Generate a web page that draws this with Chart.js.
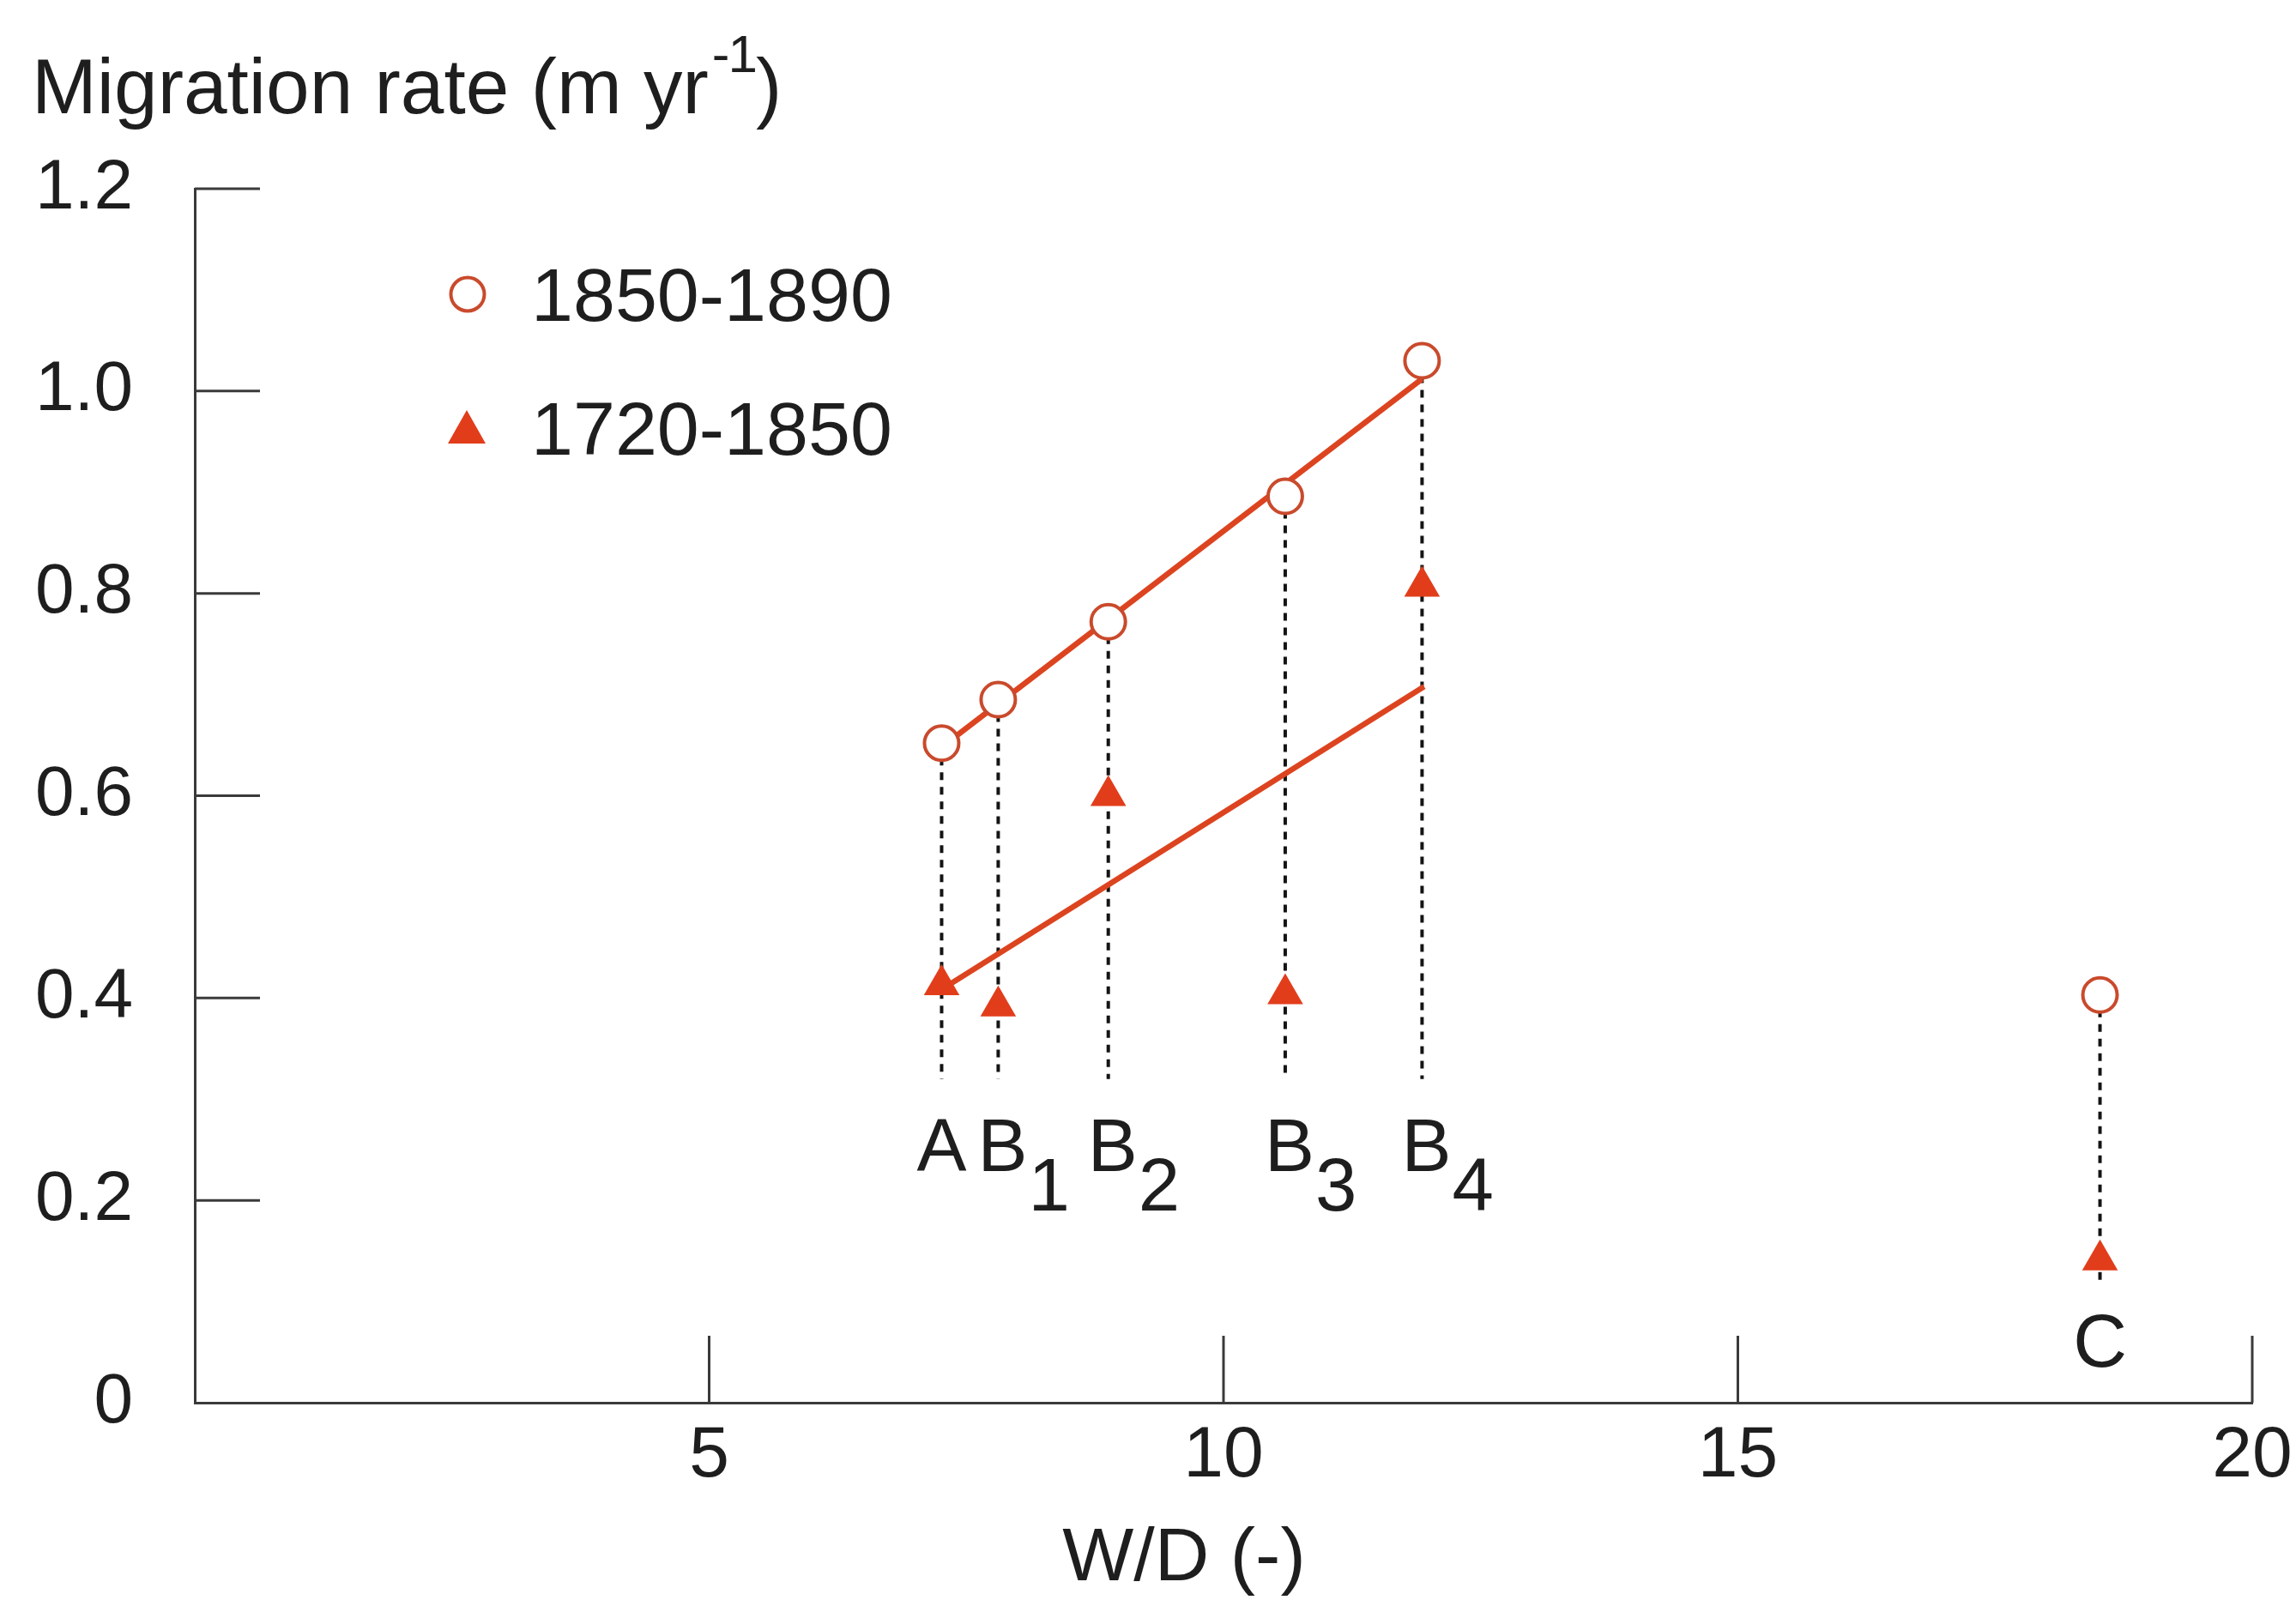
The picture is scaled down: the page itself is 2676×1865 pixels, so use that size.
<!DOCTYPE html>
<html>
<head>
<meta charset="utf-8">
<script src="https://cdn.jsdelivr.net/npm/chart.js@4.4.1/dist/chart.umd.min.js"></script>
<style>
  html, body { margin: 0; padding: 0; background: #fff; }
  #wrap { width: 2676px; height: 1865px; }
</style>
</head>
<body>
<div id="wrap"><canvas id="migrationChart" width="2676" height="1865"></canvas></div>
<script>
// sites along the reach
const siteLetters = ['A', 'B', 'B', 'B', 'B', 'C'];
const siteSubscripts = ['', '1', '2', '3', '4', ''];
const widthDepth = [7.26, 7.81, 8.88, 10.6, 11.93, 18.52];
const rate1850to1890 = [0.652, 0.695, 0.772, 0.896, 1.03, 0.403];
const rate1720to1850 = [0.413, 0.392, 0.600, 0.404, 0.807, 0.141];
// where the dotted drop lines stop
const dropBottom = [0.32, 0.32, 0.32, 0.32, 0.32, 0.115];
// trend lines, end points
const trend1850X = [7.26, 11.93];
const trend1850Y = [0.648, 1.012];
const trend1720X = [7.36, 11.95];
const trend1720Y = [0.415, 0.708];
const xTicks = [5, 10, 15, 20];
const yTicks = [0, 0.2, 0.4, 0.6, 0.8, 1.0, 1.2];
const seriesLabels = ['1850-1890', '1720-1850'];

const FONT = '"Liberation Sans", Arial, Helvetica, sans-serif';
const INK = '#1e1e1e';
const AXIS = '#3a3a3a';
const RED = '#dc4420';
const RING = '#c94a2c';
const TRI = '#e23d1b';

const pts = (xs, ys) => xs.map((x, i) => ({ x: x, y: ys[i] }));

const dropData = [];
widthDepth.forEach((x, i) => {
  dropData.push({ x: x, y: rate1850to1890[i] }, { x: x, y: dropBottom[i] }, { x: x, y: null });
});

// inside ticks, axis titles, legend and site labels
const extras = {
  id: 'extras',
  afterDraw(chart) {
    const ctx = chart.ctx;
    const xs = chart.scales.x, ys = chart.scales.y;
    const area = chart.chartArea;
    ctx.save();

    // ticks pointing into the plot
    ctx.strokeStyle = AXIS;
    ctx.lineWidth = 3;
    ctx.beginPath();
    yTicks.forEach(v => {
      if (v === 0) return;
      const py = ys.getPixelForValue(v);
      ctx.moveTo(area.left, py);
      ctx.lineTo(area.left + 76, py);
    });
    xTicks.forEach(v => {
      const px = xs.getPixelForValue(v);
      ctx.moveTo(px, area.bottom);
      ctx.lineTo(px, area.bottom - 78);
    });
    ctx.stroke();

    // y title with superscript
    ctx.fillStyle = INK;
    ctx.textBaseline = 'alphabetic';
    ctx.textAlign = 'left';
    ctx.font = '91px ' + FONT;
    const main = 'Migration rate (m yr';
    ctx.fillText(main, 37, 132);
    let tx = 37 + ctx.measureText(main).width + 4;
    ctx.font = '62px ' + FONT;
    ctx.fillText('-', tx, 84);
    tx += ctx.measureText('-').width - 2;
    ctx.fillText('1', tx, 84);
    tx += ctx.measureText('1').width - 2;
    ctx.font = '91px ' + FONT;
    ctx.fillText(')', tx, 132);

    // x title
    ctx.font = '88px ' + FONT;
    ctx.textAlign = 'center';
    ctx.fillText('W/D (-)', 1380, 1842);

    // legend
    ctx.textAlign = 'left';
    ctx.fillText(seriesLabels[0], 619, 374);
    ctx.fillText(seriesLabels[1], 619, 530);
    ctx.lineWidth = 4;
    ctx.strokeStyle = RING;
    ctx.fillStyle = '#fff';
    ctx.beginPath();
    ctx.arc(545, 343, 19.5, 0, Math.PI * 2);
    ctx.fill();
    ctx.stroke();
    ctx.fillStyle = TRI;
    ctx.beginPath();
    ctx.moveTo(544, 478);
    ctx.lineTo(566, 517);
    ctx.lineTo(522, 517);
    ctx.closePath();
    ctx.fill();

    // site labels under the drop lines
    ctx.fillStyle = INK;
    siteLetters.forEach((s, i) => {
      const px = xs.getPixelForValue(widthDepth[i]);
      const base = ys.getPixelForValue(siteSubscripts[i] || s === 'A' ? 0.229 : 0.036);
      ctx.font = '87px ' + FONT;
      const w = ctx.measureText(s).width;
      const left = px - w / 2 + (siteSubscripts[i] ? 5 : 0);
      ctx.textAlign = 'left';
      ctx.fillText(s, left, base);
      if (siteSubscripts[i]) {
        ctx.fillText(siteSubscripts[i], left + w + 1, base + 46);
      }
    });
    ctx.restore();
  }
};

new Chart(document.getElementById('migrationChart'), {
  type: 'scatter',
  data: {
    datasets: [
      {
        label: seriesLabels[0],
        data: pts(widthDepth, rate1850to1890),
        pointStyle: 'circle',
        pointRadius: 20,
        pointBorderWidth: 4,
        pointBorderColor: RING,
        pointBackgroundColor: '#fff',
        showLine: false,
        order: 0
      },
      {
        label: seriesLabels[1],
        data: pts(widthDepth, rate1720to1850),
        pointStyle: 'triangle',
        pointRadius: 24,
        pointBorderWidth: 0,
        pointBackgroundColor: TRI,
        pointBorderColor: TRI,
        showLine: false,
        order: 1
      },
      {
        label: 'trend 1850-1890',
        data: pts(trend1850X, trend1850Y),
        showLine: true,
        borderColor: RED,
        borderWidth: 6.5,
        pointRadius: 0,
        order: 2
      },
      {
        label: 'trend 1720-1850',
        data: pts(trend1720X, trend1720Y),
        showLine: true,
        borderColor: RED,
        borderWidth: 6.5,
        pointRadius: 0,
        order: 2
      },
      {
        label: 'drop lines',
        data: dropData,
        showLine: true,
        spanGaps: false,
        borderColor: '#141414',
        borderWidth: 4,
        borderDash: [9, 8],
        pointRadius: 0,
        order: 3
      }
    ]
  },
  options: {
    responsive: false,
    animation: false,
    layout: { padding: { top: 220, right: 51, left: 0, bottom: 0 } },
    plugins: {
      legend: { display: false },
      tooltip: { enabled: false }
    },
    scales: {
      x: {
        type: 'linear',
        min: 0,
        max: 20,
        afterFit: s => { s.height = 230; s.paddingLeft = 0; s.paddingRight = 0; },
        afterBuildTicks: s => { s.ticks = [0].concat(xTicks).map(v => ({ value: v })); },
        ticks: {
          callback: v => (v === 0 ? '' : v),
          font: { size: 84, family: FONT },
          color: INK,
          padding: 12,
          maxRotation: 0,
          autoSkip: false
        },
        grid: { display: false, drawTicks: false },
        border: { display: true, color: AXIS, width: 3 }
      },
      y: {
        min: 0,
        max: 1.2,
        afterFit: s => { s.width = 227; s.paddingTop = 0; s.paddingBottom = 0; },
        afterBuildTicks: s => { s.ticks = yTicks.map(v => ({ value: v })); },
        ticks: {
          callback: v => (v === 0 ? '0' : v.toFixed(1)),
          font: { size: 82, family: FONT },
          color: INK,
          padding: 72
        },
        grid: { display: false, drawTicks: false },
        border: { display: true, color: AXIS, width: 3 }
      }
    }
  },
  plugins: [extras]
});
</script>
</body>
</html>
